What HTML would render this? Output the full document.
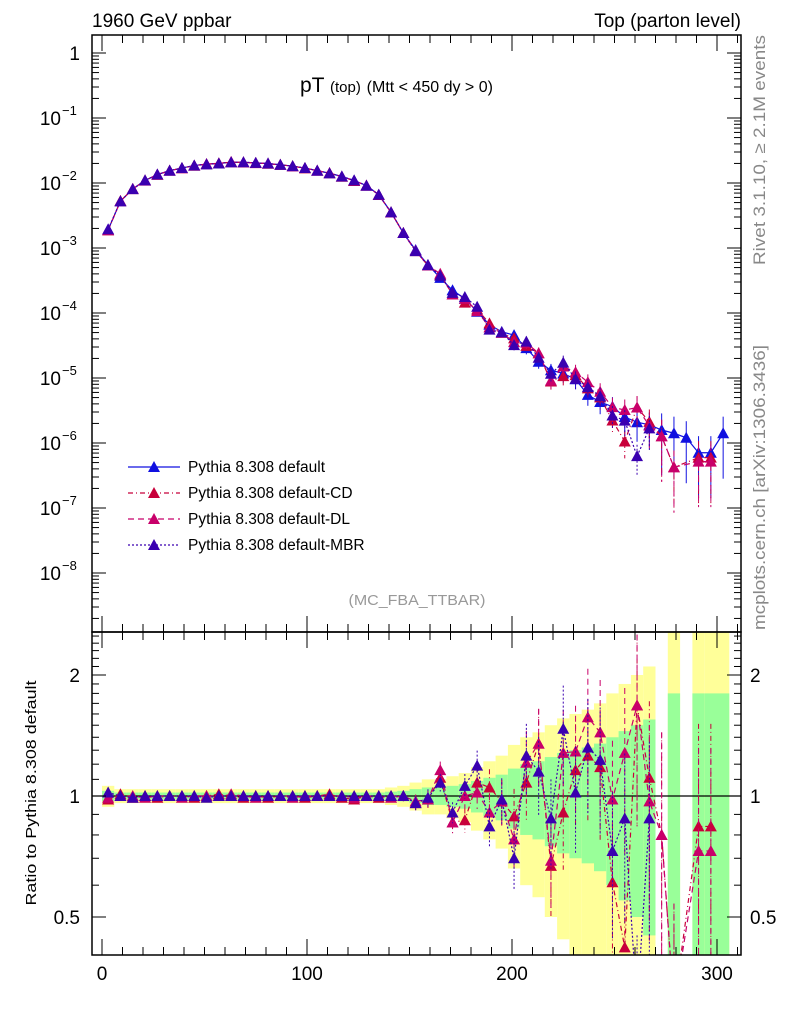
<!DOCTYPE html>
<html><head><meta charset="utf-8">
<style>
html,body{margin:0;padding:0;background:#fff;overflow:hidden;width:786px;height:1024px;}
svg{display:block;font-family:"Liberation Sans",Arial,sans-serif;}
</style></head>
<body>
<svg id="chart" width="786" height="1024" viewBox="0 0 786 1024" xmlns="http://www.w3.org/2000/svg">
<text x="92" y="27" font-size="19">1960 GeV ppbar</text>
<text x="741" y="27" font-size="19" text-anchor="end">Top (parton level)</text>
<text x="300" y="92" font-size="21">pT <tspan font-size="15">(top)</tspan> <tspan font-size="16">(Mtt &lt; 450 dy &gt; 0)</tspan></text>
<text x="417" y="605" font-size="15" fill="#999" text-anchor="middle" textLength="137" lengthAdjust="spacingAndGlyphs">(MC_FBA_TTBAR)</text>
<text transform="translate(765,265) rotate(-90)" font-size="16.5" fill="#888" textLength="230" lengthAdjust="spacingAndGlyphs">Rivet 3.1.10, ≥ 2.1M events</text>
<text transform="translate(765,630) rotate(-90)" font-size="16.5" fill="#888" textLength="285" lengthAdjust="spacingAndGlyphs">mcplots.cern.ch [arXiv:1306.3436]</text>
<text transform="translate(36,793) rotate(-90)" font-size="15" text-anchor="middle" textLength="225" lengthAdjust="spacingAndGlyphs">Ratio to Pythia 8.308 default</text>
<g id="bands"></g>
<g id="marks"></g>
<g id="axes"></g>
<g id="legend"></g>
</svg>
<script>
const xCenters=[3,9,15,21,27,33,39,45,51,57,63,69,75,81,87,93,99,105,111,117,123,129,135,141,147,153,159,165,171,177,183,189,195,201,207,213,219,225,231,237,243,249,255,261,267,273,279,285,291,297,303];
const defaultLog=[-2.72,-2.28,-2.09,-1.96,-1.87,-1.81,-1.77,-1.73,-1.71,-1.70,-1.68,-1.68,-1.69,-1.70,-1.72,-1.74,-1.77,-1.81,-1.85,-1.90,-1.96,-2.04,-2.18,-2.45,-2.77,-3.03,-3.26,-3.46,-3.65,-3.78,-3.98,-4.18,-4.29,-4.34,-4.54,-4.75,-4.88,-4.93,-5.02,-5.26,-5.37,-5.44,-5.60,-5.68,-5.72,-5.80,-5.85,-5.92,-6.15,-6.15,-5.85];
const relErr=[0.03,0.02,0.02,0.02,0.02,0.02,0.02,0.02,0.02,0.02,0.02,0.02,0.02,0.02,0.02,0.02,0.02,0.02,0.02,0.02,0.02,0.02,0.02,0.025,0.03,0.04,0.05,0.05,0.06,0.07,0.09,0.11,0.13,0.17,0.2,0.22,0.25,0.28,0.3,0.32,0.35,0.4,0.45,0.5,0.55,null,0.8,null,0.8,0.8,0.8];
const ratioCD=[0.98,1.01,0.99,1.0,0.99,1.0,1.0,0.99,1.0,1.01,1.0,0.99,1.0,0.99,1.0,1.0,0.99,1.0,1.01,0.99,0.98,1.0,0.99,1.0,1.0,0.96,0.98,1.11,0.86,0.87,1.08,1.05,0.97,0.89,1.08,1.35,0.67,0.91,1.16,1.26,1.18,0.61,0.42,1.68,1.11,0.8,0.3,null,0.84,0.84,null];
const ratioDL=[0.99,1.0,1.0,0.99,1.0,1.0,0.99,1.0,1.0,1.0,1.01,1.0,0.99,1.0,1.0,0.99,1.0,1.0,1.0,1.0,0.99,1.0,1.0,0.99,1.0,0.97,0.98,1.16,0.86,1.0,1.02,0.91,0.97,0.78,1.21,1.35,0.69,1.28,1.29,1.57,1.44,0.98,1.28,1.68,0.97,0.8,0.3,null,0.73,0.73,null];
const ratioMBR=[1.02,1.0,0.99,1.0,1.0,1.0,1.0,1.0,0.99,1.0,1.0,1.0,1.0,1.0,1.0,1.0,1.0,1.0,1.0,1.0,1.0,1.0,1.0,1.0,1.0,0.96,0.99,1.08,0.91,1.06,1.19,0.84,0.98,0.70,1.26,1.15,0.88,1.47,1.02,1.32,1.23,0.73,0.88,0.3,0.88,null,null,null,null,null,null];
const mainTickLabels=["1","10","10","10","10","10","10","10","10"];
const ratioTickVals=[2,1,0.5];
const xTickVals=[0,100,200,300];

const NS="http://www.w3.org/2000/svg";
const L=92,R=741,T=35,MB=632,RB=955;
const X=v=>102+(v)*2.05;
const YM=lg=>53-lg*65;
const YR=r=>796-Math.log2(r)*121;
function mk(tag,attrs,parent){const e=document.createElementNS(NS,tag);for(const k in attrs)e.setAttribute(k,attrs[k]);parent.appendChild(e);return e;}
const bands=document.getElementById('bands'),marks=document.getElementById('marks'),axes=document.getElementById('axes'),legend=document.getElementById('legend');
const defs=mk('defs',{},document.getElementById('chart'));
const cp1=mk('clipPath',{id:'cMain'},defs);mk('rect',{x:L,y:T,width:R-L,height:MB-T},cp1);
const cp2=mk('clipPath',{id:'cRatio'},defs);mk('rect',{x:L,y:MB,width:R-L,height:RB-MB},cp2);
bands.setAttribute('clip-path','url(#cRatio)');
xCenters.forEach((c,i)=>{const e=relErr[i];if(e==null)return;
 const x0=X(c-3),w=6*2.05;
 const yl=Math.max(0.01,1-2*e),yh=1+2*e,gl=Math.max(0.01,1-e),gh=1+e;
 const r1=mk('rect',{x:x0,y:YR(yh),width:w,height:YR(yl)-YR(yh),fill:'#ffff99'},bands);
 
 const r2=mk('rect',{x:x0,y:YR(gh),width:w,height:YR(gl)-YR(gh),fill:'#99ff99'},bands);
 
});
mk('line',{x1:L,x2:R,y1:YR(1),y2:YR(1),stroke:'#000','stroke-width':1.2},bands);
const series=[
 {name:'default',color:'#1010e0',dash:'',ratio:null},
 {name:'default-cd',color:'#c8003a',dash:'5,3,1,3',ratio:ratioCD},
 {name:'default-dl',color:'#c8006a',dash:'6,4',ratio:ratioDL},
 {name:'default-mbr',color:'#3a00b0',dash:'2,2',ratio:ratioMBR}];
function tri(g,x,y,col){return mk('path',{d:`M${x-6},${y+5}L${x+6},${y+5}L${x},${y-6}Z`,fill:col},g);}
series.forEach(s=>{
 const gm=mk('g',{'clip-path':'url(#cMain)'},marks);
 
 const gr=mk('g',{'clip-path':'url(#cRatio)'},marks);
 
 let pm=[],pr=[];
 xCenters.forEach((c,i)=>{
  const r=s.ratio?s.ratio[i]:1;if(r==null)return;
  const lg=defaultLog[i]+Math.log10(r);const e=relErr[i]==null?0.8:relErr[i];
  const x=X(c),y=YM(lg);pm.push([x,y]);
  const yr=YR(r);pr.push([x,yr]);
  const ylo=YM(lg+Math.log10(Math.max(0.001,1-e))),yhi=YM(lg+Math.log10(1+e));
  mk('line',{x1:x,x2:x,y1:yhi,y2:ylo,stroke:s.color,'stroke-dasharray':s.dash},gm);
  const t1=tri(gm,x,y,s.color);
  if(s.ratio){
   const rlo=YR(Math.max(0.05,r*(1-e))),rhi=YR(r*(1+e));
   mk('line',{x1:x,x2:x,y1:rhi,y2:rlo,stroke:s.color,'stroke-dasharray':s.dash},gr);
   const t2=tri(gr,x,yr,s.color);
  }
 });
 mk('polyline',{points:pm.map(p=>p.join(',')).join(' '),fill:'none',stroke:s.color,'stroke-width':1.2,'stroke-dasharray':s.dash},gm);
 if(s.ratio)mk('polyline',{points:pr.map(p=>p.join(',')).join(' '),fill:'none',stroke:s.color,'stroke-width':1.2,'stroke-dasharray':s.dash},gr);
});
mk('rect',{x:L,y:T,width:R-L,height:MB-T,fill:'none',stroke:'#000','stroke-width':1.5},axes);
mk('rect',{x:L,y:MB,width:R-L,height:RB-MB,fill:'none',stroke:'#000','stroke-width':1.5},axes);
for(let d=0;d>=-9;d--){
 const y=YM(d);
 if(y>=T&&y<=MB){mk('line',{x1:L,x2:L+14,y1:y,y2:y,stroke:'#000'},axes);mk('line',{x1:R-14,x2:R,y1:y,y2:y,stroke:'#000'},axes);
  if(d>=-8){
   const t=mk('text',{x:d==0?80:61,y:y+7,'font-size':19,'text-anchor':'end'},axes);
   
   t.textContent=mainTickLabels[-d];
   if(d<0){const s=mk('text',{x:62,y:y-3,'font-size':13},axes);s.textContent='−'+(-d);
    }}}
 for(let m=2;m<=9;m++){const ym=YM(d-1+Math.log10(m));if(ym>=T&&ym<=MB){mk('line',{x1:L,x2:L+7,y1:ym,y2:ym,stroke:'#000'},axes);mk('line',{x1:R-7,x2:R,y1:ym,y2:ym,stroke:'#000'},axes);}}
}
for(let v=0.4;v<=2.5;v=Math.round((v+0.1)*10)/10){const y=YR(v);if(y<MB||y>RB)continue;const big=(v==0.5||v==1||v==2);
 mk('line',{x1:L,x2:L+(big?14:7),y1:y,y2:y,stroke:'#000'},axes);mk('line',{x1:R-(big?14:7),x2:R,y1:y,y2:y,stroke:'#000'},axes);}
ratioTickVals.forEach(v=>{const y=YR(v);
 const a=mk('text',{x:80,y:y+7,'font-size':19,'text-anchor':'end'},axes);a.textContent=String(v);
 
 const b=mk('text',{x:750,y:y+7,'font-size':19},axes);b.textContent=String(v);
 });
for(let v=0;v<=310;v+=10){const x=X(v);const big=v%100==0;const h=big?16:8;
 mk('line',{x1:x,x2:x,y1:RB-h,y2:RB,stroke:'#000'},axes);mk('line',{x1:x,x2:x,y1:MB,y2:MB+h,stroke:'#000'},axes);
 mk('line',{x1:x,x2:x,y1:MB-h,y2:MB,stroke:'#000'},axes);mk('line',{x1:x,x2:x,y1:T,y2:T+h,stroke:'#000'},axes);}
xTickVals.forEach(v=>{const t=mk('text',{x:X(v),y:980,'font-size':19,'text-anchor':'middle'},axes);t.textContent=String(v);
 });
const labels=['Pythia 8.308 default','Pythia 8.308 default-CD','Pythia 8.308 default-DL','Pythia 8.308 default-MBR'];
series.forEach((s,i)=>{const y=467+i*26;
 const g=mk('g',{},legend);
 mk('line',{x1:128,x2:180,y1:y,y2:y,stroke:s.color,'stroke-width':1.2,'stroke-dasharray':s.dash},g);
 tri(g,154,y,s.color);
 const t=mk('text',{x:188,y:y+5,'font-size':15.5},g);t.textContent=labels[i];});
</script>
</body></html>
